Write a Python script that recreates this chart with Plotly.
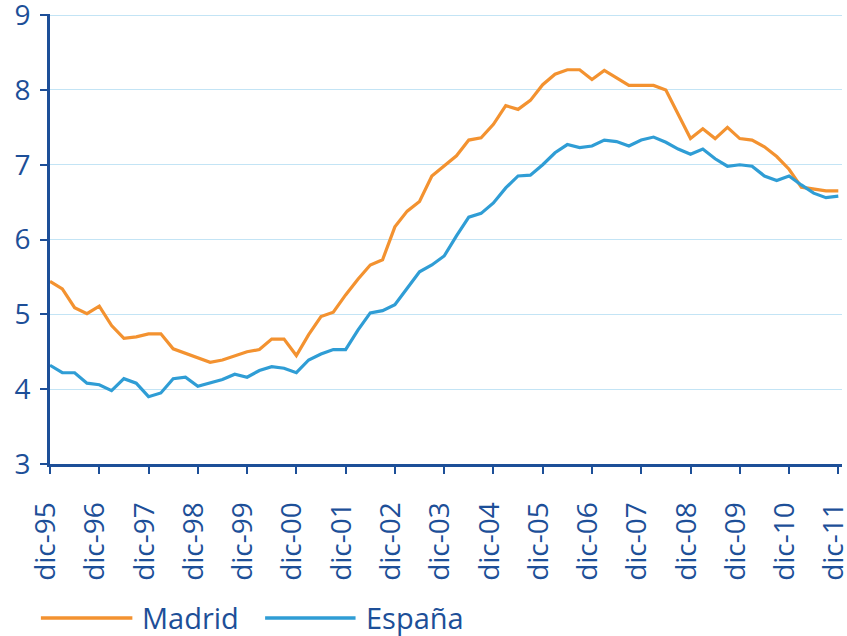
import plotly.graph_objects as go

madrid = [5.44, 5.34, 5.09, 5.01, 5.11, 4.85, 4.68, 4.70, 4.74, 4.74,
          4.54, 4.48, 4.42, 4.36, 4.39, 4.44, 4.50, 4.53, 4.67, 4.67,
          4.45, 4.73, 4.97, 5.03, 5.26, 5.47, 5.66, 5.73, 6.17, 6.38,
          6.51, 6.85, 6.98, 7.12, 7.33, 7.36, 7.54, 7.79, 7.74, 7.86,
          8.07, 8.21, 8.27, 8.27, 8.14, 8.26, 8.16, 8.06, 8.06, 8.06,
          8.00, 7.68, 7.35, 7.48, 7.35, 7.50, 7.35, 7.33, 7.24, 7.11,
          6.94, 6.70, 6.68, 6.65, 6.65]

espana = [4.32, 4.22, 4.22, 4.08, 4.06, 3.98, 4.14, 4.08, 3.90, 3.95,
          4.14, 4.16, 4.04, 4.08, 4.13, 4.20, 4.16, 4.25, 4.30, 4.28,
          4.22, 4.39, 4.47, 4.53, 4.53, 4.79, 5.02, 5.05, 5.13, 5.35,
          5.57, 5.66, 5.78, 6.05, 6.30, 6.35, 6.49, 6.69, 6.85, 6.86,
          7.00, 7.16, 7.27, 7.23, 7.25, 7.33, 7.31, 7.25, 7.33, 7.37,
          7.30, 7.21, 7.14, 7.21, 7.08, 6.98, 7.00, 6.98, 6.85, 6.79,
          6.85, 6.73, 6.62, 6.56, 6.58]

# quarter index (0 = dic-95, 64 = dic-11)
quarter = list(range(len(madrid)))

tick_quarters = [0, 4, 8, 12, 16, 20, 24, 28, 32, 36, 40, 44, 48, 52, 56, 60, 64]
tick_labels = ["dic-95", "dic-96", "dic-97", "dic-98", "dic-99", "dic-00",
               "dic-01", "dic-02", "dic-03", "dic-04", "dic-05", "dic-06",
               "dic-07", "dic-08", "dic-09", "dic-10", "dic-11"]

series_names = ["Madrid", "España"]

ORANGE = "#F39230"
BLUE = "#2F9DD5"
NAVY = "#1D4F98"
GRID = "#C3E4F5"
FONT = "Open Sans"

fig = go.Figure()
fig.add_trace(go.Scatter(x=quarter, y=madrid, mode="lines", name=series_names[0],
                         line=dict(color=ORANGE, width=3.2), showlegend=False))
fig.add_trace(go.Scatter(x=quarter, y=espana, mode="lines", name=series_names[1],
                         line=dict(color=BLUE, width=3.2), showlegend=False))

# legend drawn as line samples + text below the plot
leg_y = -0.342
for (x0, x1, tx), col, name in zip([(-0.0115, 0.104, 0.1145), (0.2716, 0.3858, 0.3975)],
                                   [ORANGE, BLUE], series_names):
    fig.add_shape(type="line", xref="paper", yref="paper", x0=x0, x1=x1,
                  y0=leg_y, y1=leg_y, line=dict(color=col, width=3.5))
    fig.add_annotation(xref="paper", yref="paper", x=tx, y=leg_y + 0.002,
                       xanchor="left", yanchor="middle", showarrow=False,
                       borderpad=0,
                       text=name, font=dict(size=29, color=NAVY, family=FONT))

fig.update_layout(
    width=847, height=636,
    margin=dict(l=50, r=5, t=14, b=172),
    paper_bgcolor="white", plot_bgcolor="white",
    font=dict(family=FONT, color=NAVY, size=28),
    showlegend=False,
    xaxis=dict(
        range=[0, 64.3], automargin=False,
        tickmode="array", tickvals=tick_quarters, ticktext=tick_labels,
        tickangle=-90, ticks="outside", ticklen=7, tickwidth=2,
        tickcolor=NAVY, showline=True, linecolor=NAVY, linewidth=3,
        showgrid=False, zeroline=False, ticklabelstandoff=17,
        ticklabelshift=-4, ticklabeloverflow="allow",
        tickfont=dict(size=28, color=NAVY, family=FONT),
    ),
    yaxis=dict(
        range=[3, 9.015], dtick=1, tick0=3, automargin=False,
        ticks="outside", ticklen=7, tickwidth=2, tickcolor=NAVY,
        showline=True, linecolor=NAVY, linewidth=3,
        showgrid=True, gridcolor=GRID, gridwidth=1, zeroline=False,
        ticklabelstandoff=4, ticklabeloverflow="allow",
        tickfont=dict(size=28, color=NAVY, family=FONT),
    ),
)

fig.write_html("out.html", config={"displayModeBar": False},
               post_script="document.body.style.margin='0';document.body.style.padding='0';")
